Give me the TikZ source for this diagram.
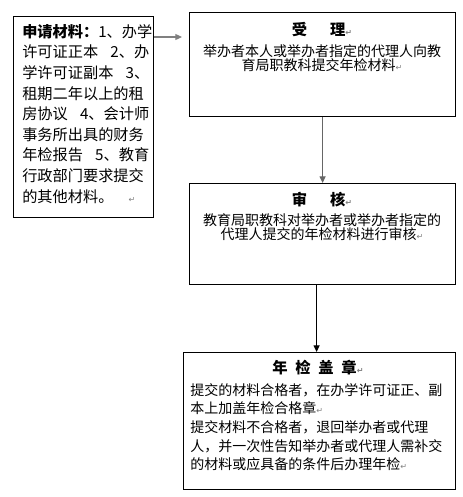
\documentclass[tikz,border=0pt]{standalone}
\usepackage{fontspec}
\setmainfont{Noto Sans CJK SC}
\newfontfamily\marksymfont{DejaVu Sans}
\usetikzlibrary{arrows.meta}
\usepackage{xcolor}
\newcommand{\parmark}{{\color{gray}\marksymfont\fontsize{6}{6}\selectfont ↵}}

\begin{document}
\begin{tikzpicture}[x=0.75pt,y=-0.75pt,
	box/.style={draw,line width=0.9pt,anchor=north west,inner sep=0pt},
	headtxt/.style={inner sep=0pt,font=\bfseries\fontsize{11.5}{11.5}\selectfont},
	bodytxt/.style={inner sep=0pt,font=\fontsize{10.5}{10.5}\selectfont},
	flow/.style={-{Triangle[length=5pt,width=4.5pt]},line width=0.9pt}]
		\useasboundingbox (0,0) rectangle (462,497);
		% boxes
		\draw (13,16) node[box,minimum width=105pt,minimum height=150.75pt] (matlist) {}
		(189,12) node[box,minimum width=199.5pt,minimum height=78pt] (accept) {}
		(189,183) node[box,minimum width=199.5pt,minimum height=75.75pt] (review) {}
		(183,352) node[box,minimum width=204pt,minimum height=102.75pt] (stamp) {};
		
		% texts
		\draw (22,24) node[bodytxt,anchor=north west,align=left,font=\fontsize{11.4}{15.45}\selectfont] (matlisttx)
		{\textbf{申请材料：}1、办学\\许可证正本\hspace{0.8em}2、办\\学许可证副本\hspace{0.8em}3、\\租期二年以上的租\\房协议\hspace{0.8em}4、会计师\\事务所出具的财务\\年检报告\hspace{0.8em}5、教育\\行政部门要求提交\\的其他材料。\hspace{1em}\parmark}
		(322,30) node[headtxt] (accepthd) {受\hspace{1.5em}理\parmark}
		(322,44) node[bodytxt,anchor=north,align=center] (accepttx) {举办者本人或举办者指定的代理人向教\\育局职教科提交年检材料\parmark}
		(322,200) node[headtxt] (reviewhd) {审\hspace{1.5em}核\parmark}
		(322,213) node[bodytxt,anchor=north,align=center] (reviewtx) {教育局职教科对举办者或举办者指定的\\代理人提交的年检材料进行审核\parmark}
		(318,368) node[headtxt] (stamphd) {年\hspace{0.5em}检\hspace{0.5em}盖\hspace{0.5em}章\parmark}
		(190,383) node[bodytxt,anchor=north west,align=left,font=\fontsize{10.5}{14}\selectfont] (stamptx)
		{提交的材料合格者，在办学许可证正、副\\本上加盖年检合格章\parmark\\提交材料不合格者，退回举办者或代理\\人，并一次性告知举办者或代理人需补交\\的材料或应具备的条件后办理年检\parmark};
		
		% connectors
		\coordinate (accepttip) at (182,37);
		\draw[flow,gray] (matlist.east |- accepttip) -- (accepttip);
		\draw[flow,gray!80!black] (accept) -- (review);
		\draw[flow] ([xshift=-4.5pt]review.south) -- ([xshift=-4.5pt]review.south |- stamp.north);
\end{tikzpicture}
\end{document}
